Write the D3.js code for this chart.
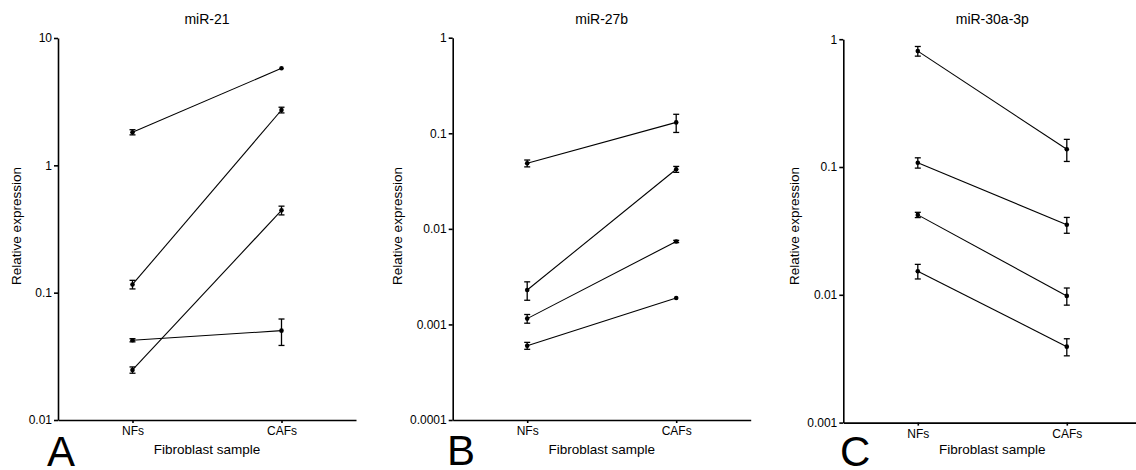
<!DOCTYPE html>
<html>
<head>
<meta charset="utf-8">
<script src="https://cdn.jsdelivr.net/npm/d3@7/dist/d3.min.js"></script>
<style>
  html, body { margin: 0; padding: 0; background: #fff; }
  svg { display: block; font-family: "Liberation Sans", Arial, sans-serif; }
  .axis path, .axis line { stroke: #000; stroke-width: 1.6px; }
  .axis text { fill: #000; font-size: 12px; }
</style>
</head>
<body>
<svg id="chart" width="1136" height="470"></svg>
<script>
// Sample groups on the x axis
const categories = ["NFs", "CAFs"];

// Panel titles and letters
const titles = ["miR-21", "miR-27b", "miR-30a-3p"];
const panelLetters = ["A", "B", "C"];

// Mean relative expression per cell line pair: [NFs, CAFs]
const miR21Means = [[1.82, 5.78], [0.116, 2.72], [0.0247, 0.443], [0.0423, 0.0503]];
const miR21Errors = [[0.085, 0], [0.009, 0.14], [0.0014, 0.035], [0.0012, 0.0118]];

const miR27bMeans = [[0.0485, 0.130], [0.00229, 0.042], [0.00115, 0.00738], [0.000599, 0.00189]];
const miR27bErrors = [[0.004, 0.028], [0.0005, 0.003], [0.00012, 0.0002], [0.00005, 0]];

const miR30aMeans = [[0.807, 0.1375], [0.108, 0.0353], [0.0422, 0.0098], [0.0153, 0.00393]];
const miR30aErrors = [[0.07, 0.027], [0.01, 0.005], [0.002, 0.0015], [0.002, 0.0006]];

// Log axis extents and decade tick labels
const miR21Domain = [0.01, 10];
const miR27bDomain = [0.0001, 1];
const miR30aDomain = [0.001, 1];
const miR21Ticks = [10, 1, 0.1, 0.01];
const miR27bTicks = [1, 0.1, 0.01, 0.001, 0.0001];
const miR30aTicks = [1, 0.1, 0.01, 0.001];
const miR21TickLabels = ["10", "1", "0.1", "0.01"];
const miR27bTickLabels = ["1", "0.1", "0.01", "0.001", "0.0001"];
const miR30aTickLabels = ["1", "0.1", "0.01", "0.001"];

const yTitle = "Relative expression";
const xTitle = "Fibroblast sample";

const panels = [
  { title: titles[0], letter: panelLetters[0], means: miR21Means, errors: miR21Errors,
    domain: miR21Domain, ticks: miR21Ticks, labels: miR21TickLabels,
    left: 58, top: 38, bottom: 420, yLabelX: 21, letterX: 47, letterY: 466 },
  { title: titles[1], letter: panelLetters[1], means: miR27bMeans, errors: miR27bErrors,
    domain: miR27bDomain, ticks: miR27bTicks, labels: miR27bTickLabels,
    left: 452.7, top: 37.7, bottom: 420, yLabelX: 401.5, letterX: 447, letterY: 465 },
  { title: titles[2], letter: panelLetters[2], means: miR30aMeans, errors: miR30aErrors,
    domain: miR30aDomain, ticks: miR30aTicks, labels: miR30aTickLabels,
    left: 843.3, top: 39.2, bottom: 422.6, yLabelX: 798.5, letterX: 840, letterY: 466 }
];

const plotWidth = 298;
const svg = d3.select("#chart");

panels.forEach(p => {
  const g = svg.append("g").attr("transform", `translate(${p.left},0)`);
  const x = d3.scalePoint().domain(categories).range([0, plotWidth]).padding(0.5);
  const y = d3.scaleLog().domain(p.domain).range([p.bottom, p.top]);

  // Axes
  g.append("g").attr("class", "axis")
    .call(d3.axisLeft(y).tickValues(p.ticks)
      .tickFormat((d, i) => p.labels[i]).tickSize(4).tickSizeOuter(0).tickPadding(2));
  g.append("g").attr("class", "axis")
    .attr("transform", `translate(0,${p.bottom})`)
    .call(d3.axisBottom(x).tickSize(3).tickSizeOuter(0).tickPadding(3.5));

  // Title
  g.append("text")
    .attr("x", plotWidth / 2).attr("y", 24)
    .attr("text-anchor", "middle").attr("font-size", 14).attr("fill", "#000")
    .text(p.title);

  // Axis titles
  g.append("text")
    .attr("x", plotWidth / 2).attr("y", 454)
    .attr("text-anchor", "middle").attr("font-size", 13.5).attr("fill", "#000")
    .text(xTitle);
  svg.append("text")
    .attr("transform", `translate(${p.yLabelX},226) rotate(-90)`)
    .attr("text-anchor", "middle").attr("font-size", 13.5).attr("fill", "#000")
    .text(yTitle);

  // Panel letter
  svg.append("text")
    .attr("x", p.letterX).attr("y", p.letterY)
    .attr("font-size", 42).attr("fill", "#000")
    .text(p.letter);

  // Paired lines, error bars and points
  p.means.forEach((pair, si) => {
    const pts = pair.map((v, ci) => ({ cat: categories[ci], v, e: p.errors[si][ci] }));
    g.append("path")
      .datum(pts)
      .attr("fill", "none").attr("stroke", "#000").attr("stroke-width", 1.1)
      .attr("d", d3.line().x(d => x(d.cat)).y(d => y(d.v)));

    pts.filter(d => d.e > 0).forEach(d => {
      const cx = x(d.cat);
      const y1 = y(d.v + d.e), y0 = y(d.v - d.e);
      const eb = g.append("g").attr("stroke", "#000").attr("stroke-width", 1.3);
      eb.append("line").attr("x1", cx).attr("x2", cx).attr("y1", y1).attr("y2", y0);
      eb.append("line").attr("x1", cx - 3).attr("x2", cx + 3).attr("y1", y1).attr("y2", y1);
      eb.append("line").attr("x1", cx - 3).attr("x2", cx + 3).attr("y1", y0).attr("y2", y0);
    });

    g.selectAll(null).data(pts).enter().append("circle")
      .attr("cx", d => x(d.cat)).attr("cy", d => y(d.v))
      .attr("r", 2.3).attr("fill", "#000");
  });
});
</script>
</body>
</html>
